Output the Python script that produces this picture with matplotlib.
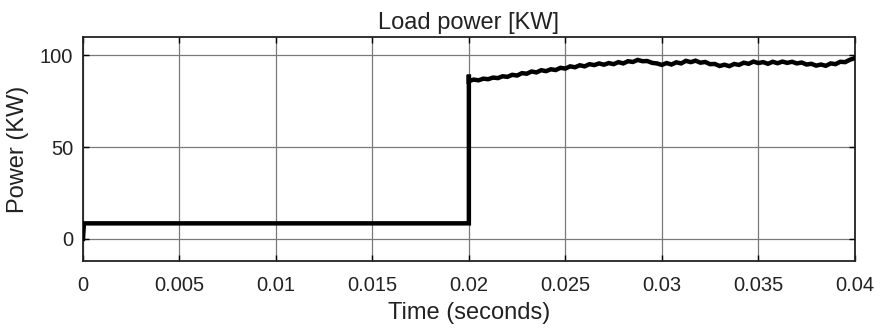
import numpy as np
import matplotlib
matplotlib.use("Agg")
import matplotlib.pyplot as plt

# Load power samples
t_before = [0.0, 0.00005, 0.0199, 0.02, 0.02]
p_before = [0.0, 8.5, 8.5, 8.5, 89.5]

# after the load step: one sample every 0.25 ms from 0.02 s to 0.04 s
t_after = np.linspace(0.02, 0.04, 81)
p_after = [
    86.0, 86.8, 86.4, 87.3, 87.0, 87.9, 87.6, 88.6, 88.3, 89.4,
    89.0, 90.3, 90.0, 91.2, 90.7, 91.9, 91.4, 92.4, 92.0, 93.2,
    92.8, 94.0, 93.5, 94.6, 94.0, 95.2, 94.7, 95.6, 94.9, 95.8,
    95.2, 96.3, 95.6, 96.8, 96.4, 97.5, 96.8, 96.9, 95.9, 95.6,
    94.8, 95.8, 95.0, 96.2, 95.6, 97.0, 96.3, 97.1, 96.0, 96.4,
    95.2, 95.3, 94.2, 94.9, 94.1, 95.3, 94.8, 96.0, 95.4, 96.6,
    95.8, 96.3, 95.4, 96.5, 95.7, 96.6, 95.9, 96.5, 95.6, 96.1,
    95.0, 95.4, 94.4, 95.0, 94.3, 95.6, 95.2, 96.5, 96.3, 97.6,
    98.5,
]

x_ticks = [0, 0.005, 0.01, 0.015, 0.02, 0.025, 0.03, 0.035, 0.04]
x_labels = ["0", "0.005", "0.01", "0.015", "0.02", "0.025", "0.03", "0.035", "0.04"]
y_ticks = [0, 50, 100]

plt.rcParams["font.family"] = ["Liberation Sans", "DejaVu Sans"]

fig = plt.figure(figsize=(8.8, 3.35), dpi=100)
ax = fig.add_axes([0.0943, 0.2209, 0.877, 0.6687])

t = np.concatenate([t_before, t_after])
p = np.concatenate([p_before, p_after])
ax.plot(t, p, color="black", lw=3.2, solid_joinstyle="miter", zorder=3)

ax.set_xlim(0, 0.04)
ax.set_ylim(-12, 110)
ax.set_xticks(x_ticks)
ax.set_xticklabels(x_labels)
ax.set_yticks(y_ticks)

ax.grid(True, color="#7a7a7a", lw=0.9)
ax.tick_params(direction="in", length=4, width=1, top=True, right=True,
               labelsize=14.5, colors="black", labelcolor="#222222")
ax.tick_params(axis="x", pad=11)
ax.tick_params(axis="y", pad=7)
for s in ax.spines.values():
    s.set_linewidth(1.3)
    s.set_color("#222222")

ax.set_title("Load power [KW]", fontsize=17, pad=6, color="#222222")
ax.set_xlabel("Time (seconds)", fontsize=17, labelpad=5, color="#222222")
ax.set_ylabel("Power (KW)", fontsize=17, labelpad=8, color="#222222")

fig.savefig("out.png", dpi=100)
